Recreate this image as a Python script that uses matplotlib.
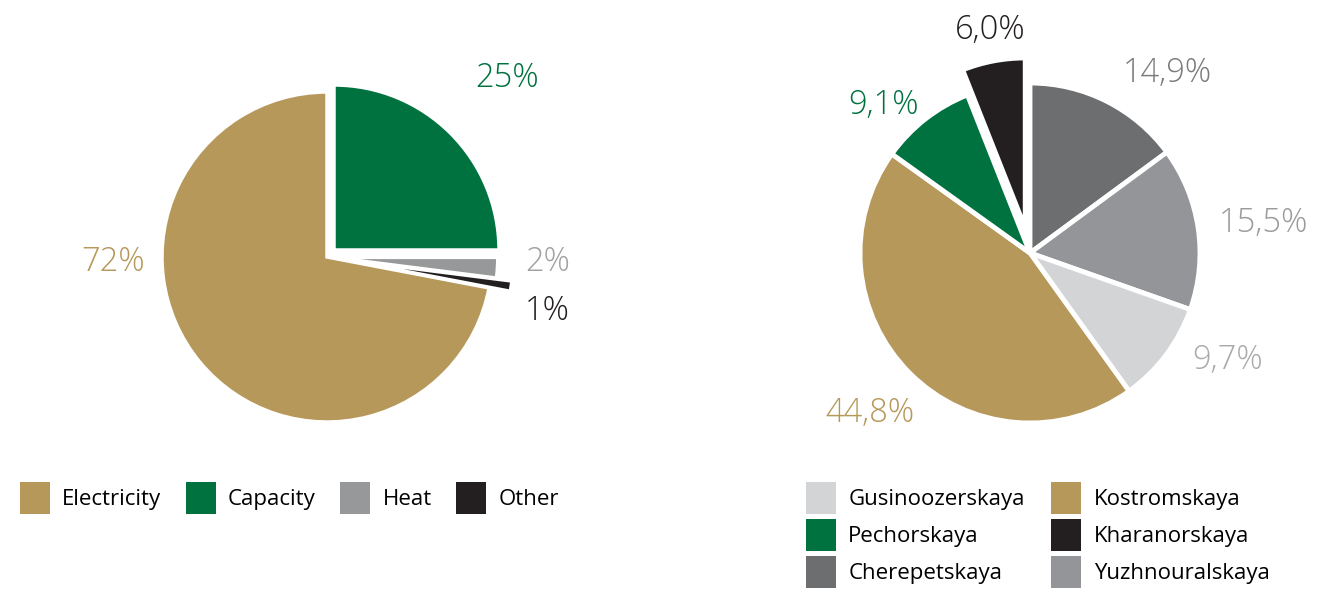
import matplotlib.pyplot as plt
from matplotlib.patches import Patch

plt.rcParams['font.family'] = ['Open Sans', 'DejaVu Sans']

# left pie: revenue structure
rev_labels = ['Capacity', 'Heat', 'Other', 'Electricity']
rev_values = [25, 2, 1, 72]
rev_text = ['25%', '2%', '1%', '72%']
rev_colors = ['#00723F', '#97989A', '#231F20', '#B6985A']
rev_explode = [0.06, 0.035, 0.13, 0.0]
rev_text_xy = [(1.09, 1.085), (1.34, -0.03), (1.333, -0.327), (-1.297, -0.03)]
rev_text_colors = ['#00723F', '#A0A1A3', '#231F20', '#B6985A']
rev_legend_order = ['Electricity', 'Capacity', 'Heat', 'Other']

# right pie: by plant
plant_labels = ['Cherepetskaya', 'Yuzhnouralskaya', 'Gusinoozerskaya',
                'Kostromskaya', 'Pechorskaya', 'Kharanorskaya']
plant_values = [14.9, 15.5, 9.7, 44.8, 9.1, 6.0]
plant_text = ['14,9%', '15,5%', '9,7%', '44,8%', '9,1%', '6,0%']
plant_colors = ['#6D6E70', '#939598', '#D3D4D6', '#B6985A', '#00723F', '#231F20']
plant_explode = [0, 0, 0, 0, 0, 0.15]
plant_text_xy = [(0.81, 1.06), (1.376, 0.176), (1.16, -0.63),
                 (-0.94, -0.94), (-0.86, 0.87), (-0.235, 1.31)]
plant_text_colors = ['#7A7B7D', '#9A9B9D', '#A9AAAC', '#B6985A', '#00723F', '#231F20']
plant_legend_order = ['Gusinoozerskaya', 'Pechorskaya', 'Cherepetskaya',
                      'Kostromskaya', 'Kharanorskaya', 'Yuzhnouralskaya']

W, H = 1321, 595
fig = plt.figure(figsize=(W / 100, H / 100), dpi=100)


def pie_axes(cx, cy, r, lim=1.45):
    # square axes centred on pixel (cx, cy), radius r pixels for unit circle
    half = r * lim
    ax = fig.add_axes([(cx - half) / W, 1 - (cy + half) / H, 2 * half / W, 2 * half / H])
    ax.axis('off')
    return ax


ax1 = pie_axes(327, 257, 165)
ax1.pie(rev_values, colors=rev_colors, explode=rev_explode, startangle=90,
        counterclock=False, radius=1.0,
        wedgeprops=dict(edgecolor='white', linewidth=2.5))
for t, (x, y), c in zip(rev_text, rev_text_xy, rev_text_colors):
    ax1.text(x, y, t, color=c, fontsize=23.5, ha='center', va='center', fontweight='light')
ax1.set_xlim(-1.45, 1.45)
ax1.set_ylim(-1.45, 1.45)

ax2 = pie_axes(1030, 253, 170)
ax2.pie(plant_values, colors=plant_colors, explode=plant_explode, startangle=90,
        counterclock=False, radius=1.0,
        wedgeprops=dict(edgecolor='white', linewidth=3.5))
for t, (x, y), c in zip(plant_text, plant_text_xy, plant_text_colors):
    ax2.text(x, y, t, color=c, fontsize=23.5, ha='center', va='center', fontweight='light')
ax2.set_xlim(-1.45, 1.45)
ax2.set_ylim(-1.45, 1.45)

# legends
rev_handles = [Patch(facecolor=rev_colors[rev_labels.index(n)], label=n) for n in rev_legend_order]
fig.legend(handles=rev_handles, loc='upper left', bbox_to_anchor=(20 / W, 1 - 482 / H),
           ncol=4, frameon=False, fontsize=16, handlelength=1.35, handleheight=1.85,
           handletextpad=0.55, columnspacing=1.1, borderpad=0, borderaxespad=0)

plant_handles = [Patch(facecolor=plant_colors[plant_labels.index(n)], label=n) for n in plant_legend_order]
fig.legend(handles=plant_handles, loc='upper left', bbox_to_anchor=(806 / W, 1 - 482 / H),
           ncol=2, frameon=False, fontsize=16, handlelength=1.35, handleheight=1.85,
           handletextpad=0.55, columnspacing=1.2, labelspacing=0.22,
           borderpad=0, borderaxespad=0)

fig.savefig('out.png', dpi=100)
